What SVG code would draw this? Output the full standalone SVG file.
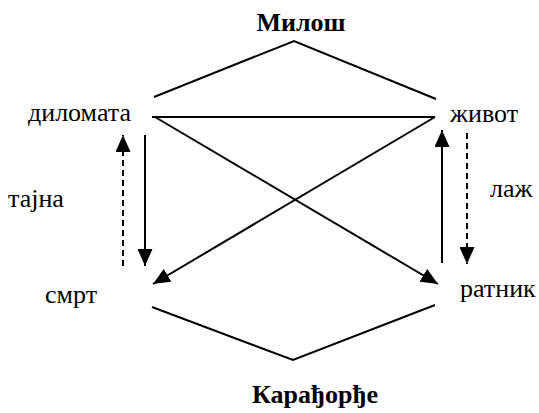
<svg xmlns="http://www.w3.org/2000/svg" width="539" height="413" viewBox="0 0 539 413">
<style>
text{font-family:"Liberation Serif","DejaVu Serif","Times New Roman",serif;font-size:26px;fill:#000}
.b{font-weight:bold}
.l{fill:none;stroke:#000;stroke-width:2}
.d{stroke-dasharray:6 4}
</style>
<defs>
<marker id="ah" viewBox="0 0 17 15" refX="17" refY="7.5" markerWidth="17" markerHeight="15" markerUnits="userSpaceOnUse" orient="auto">
<path d="M0,0 L17,7.5 L0,15 Z" fill="#000"/>
</marker>
</defs>
<rect width="539" height="413" fill="#fff"/>
<g id="connectors">
<polyline class="l" points="154,97 294,41 436,99"/>
<line class="l" x1="152" y1="117" x2="435" y2="117"/>
<line class="l" x1="155" y1="117" x2="438" y2="284" marker-end="url(#ah)"/>
<line class="l" x1="435" y1="117" x2="153" y2="284" marker-end="url(#ah)"/>
<line class="l" x1="145" y1="135" x2="145" y2="266" marker-end="url(#ah)"/>
<line class="l d" x1="123" y1="266" x2="123" y2="135" marker-end="url(#ah)"/>
<line class="l" x1="442" y1="263" x2="442" y2="130" marker-end="url(#ah)"/>
<line class="l d" x1="467" y1="133" x2="467" y2="264" marker-end="url(#ah)"/>
<polyline class="l" points="152,307 293,360 435,305"/>
</g>
<g id="milos"><text class="b" x="301" y="31" text-anchor="middle">Милош</text></g>
<g id="dilomata"><text x="28" y="121">диломата</text></g>
<g id="zivot"><text x="450" y="122">живот</text></g>
<g id="tajna"><text x="8" y="207">тајна</text></g>
<g id="laz"><text x="490" y="197">лаж</text></g>
<g id="smrt"><text x="45" y="303">смрт</text></g>
<g id="ratnik"><text x="460" y="297">ратник</text></g>
<g id="karadjordje"><text class="b" x="315" y="403" text-anchor="middle">Карађорђе</text></g>
</svg>
